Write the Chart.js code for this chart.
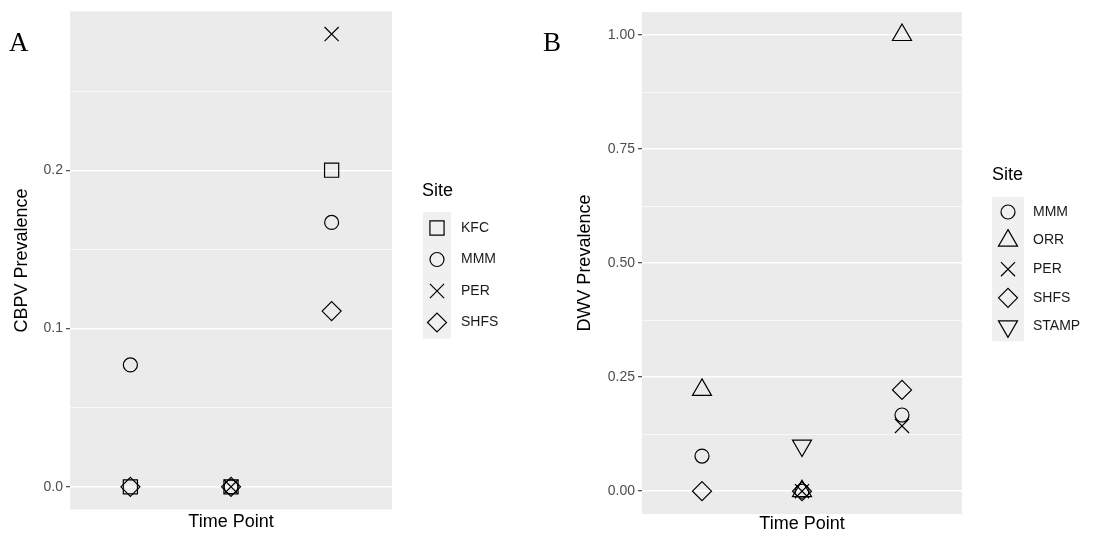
<!DOCTYPE html>
<html>
<head>
<meta charset="utf-8">
<script src="https://cdn.jsdelivr.net/npm/chart.js@4.4.0/dist/chart.umd.min.js"></script>
<style>
  body { margin: 0; background: #fff; width: 1093px; height: 535px; overflow: hidden; position: relative; }
  .wrap { position: absolute; top: 0; height: 535px; }
  .tag { position: absolute; font-family: "Liberation Serif", "Times New Roman", serif; font-size: 27px; line-height: 1; color: #000; }
</style>
</head>
<body>
<div class="wrap" style="left:0;width:540px"><canvas id="chartA"></canvas></div>
<div class="wrap" style="left:540px;width:553px"><canvas id="chartB"></canvas></div>
<div class="tag" style="left:9px;top:29px">A</div>
<div class="tag" style="left:543px;top:29px">B</div>
<script>
// time points on the x axis (no labels shown in the figure)
const timePoints = [1, 2, 3];

// Panel A - CBPV prevalence per site
const cbpvSites = ["KFC", "MMM", "PER", "SHFS"];
const cbpvKFC = [0, 0, 0.2];
const cbpvMMM = [0.077, 0, 0.167];
const cbpvPER = [null, 0, 0.286];
const cbpvSHFS = [0, 0, 0.111];
const cbpvTickValues = [0, 0.1, 0.2];
const cbpvTickLabels = ["0.0", "0.1", "0.2"];
const cbpvMinorTicks = [0.05, 0.15, 0.25];

// Panel B - DWV prevalence per site
const dwvSites = ["MMM", "ORR", "PER", "SHFS", "STAMP"];
const dwvMMM = [0.077, 0, 0.167];
const dwvORR = [0.222, 0, 1.0];
const dwvPER = [null, 0, 0.143];
const dwvSHFS = [0, 0, 0.222];
const dwvSTAMP = [null, 0.1, null];
const dwvTickValues = [0, 0.25, 0.5, 0.75, 1.0];
const dwvTickLabels = ["0.00", "0.25", "0.50", "0.75", "1.00"];
const dwvMinorTicks = [0.125, 0.375, 0.625, 0.875];

// open symbols like ggplot shapes 0,1,2,4,5,6
const shapes = {
  KFC: { pointStyle: "rect", pointRadius: 10, pointRotation: 0 },
  MMM: { pointStyle: "circle", pointRadius: 7, pointRotation: 0 },
  PER: { pointStyle: "crossRot", pointRadius: 10, pointRotation: 0 },
  SHFS: { pointStyle: "rectRot", pointRadius: 9.5, pointRotation: 0 },
  ORR: { pointStyle: "triangle", pointRadius: 11, pointRotation: 0 },
  STAMP: { pointStyle: "triangle", pointRadius: 11, pointRotation: 180 },
};

const FONT = "'Liberation Sans', Arial, sans-serif";

function makeDatasets(sites, series) {
  return sites.map((site, i) => ({
    label: site,
    data: timePoints
      .map((t, j) => ({ x: t, y: series[i][j] }))
      .filter((p) => p.y !== null),
    ...shapes[site],
    pointBorderWidth: 1.2,
    pointBorderColor: "#000",
    pointBackgroundColor: "rgba(0,0,0,0)",
  }));
}

// grey panel behind the grid
const ggPanel = {
  id: "ggPanel",
  beforeDraw(chart) {
    const { ctx, chartArea: a } = chart;
    ctx.save();
    ctx.fillStyle = "#ebebeb";
    ctx.fillRect(a.left, a.top, a.right - a.left, a.bottom - a.top);
    ctx.restore();
  },
};

// ggplot-style legend: title, grey key column, symbols from the datasets
const ggLegend = {
  id: "ggLegend",
  afterDraw(chart, args, o) {
    const ctx = chart.ctx;
    const sets = chart.data.datasets;
    const lastY = o.firstY + o.stepY * (sets.length - 1);
    ctx.save();
    ctx.fillStyle = "#f0f0f0";
    ctx.fillRect(o.keyX - o.keyHalfW, o.firstY - o.keyHalfH,
      o.keyHalfW * 2, lastY - o.firstY + o.keyHalfH * 2);
    ctx.fillStyle = "#000";
    ctx.textBaseline = "middle";
    ctx.textAlign = "left";
    ctx.font = o.titleSize + "px " + FONT;
    ctx.fillText("Site", o.titleX, o.titleY);
    ctx.font = o.labelSize + "px " + FONT;
    sets.forEach((ds, i) => {
      const y = o.firstY + o.stepY * i;
      ctx.strokeStyle = "#000";
      ctx.fillStyle = "rgba(0,0,0,0)";
      ctx.lineWidth = 1.2;
      Chart.helpers.drawPoint(ctx, {
        pointStyle: ds.pointStyle,
        rotation: ds.pointRotation,
        radius: ds.pointRadius,
        borderWidth: 1.2,
      }, o.keyX, y);
      ctx.fillStyle = "#1a1a1a";
      ctx.fillText(ds.label, o.textX, y);
    });
    ctx.restore();
  },
};

function makeChart(id, cfg) {
  const range = cfg.max - cfg.min;
  const isMajor = (v) => cfg.tickValues.some((t) => Math.abs(t - v) < 1e-9);
  return new Chart(document.getElementById(id), {
    type: "scatter",
    data: { datasets: cfg.datasets },
    plugins: [ggPanel, ggLegend],
    options: {
      responsive: true,
      maintainAspectRatio: false,
      animation: false,
      events: [],
      layout: { padding: { left: 0, top: cfg.padTop, right: cfg.padRight, bottom: 0 } },
      scales: {
        x: {
          type: "linear",
          min: 0.4,
          max: 3.6,
          ticks: { display: false },
          grid: { display: false },
          border: { display: false },
          title: {
            display: true,
            text: "Time Point",
            color: "#000",
            font: { family: FONT, size: cfg.titleSize },
            padding: { top: 0, bottom: cfg.xTitlePad },
          },
          afterFit: (s) => { s.height = cfg.xAxisHeight; },
        },
        y: {
          type: "linear",
          min: cfg.min - range * 0.05,
          max: cfg.max + range * 0.05,
          afterBuildTicks: (s) => {
            s.ticks = [...cfg.tickValues, ...cfg.minorTicks]
              .sort((a, b) => a - b)
              .map((v) => ({ value: v }));
          },
          ticks: {
            color: "#4d4d4d",
            font: { family: FONT, size: cfg.tickSize },
            padding: 3,
            callback: (v) => {
              const k = cfg.tickValues.findIndex((t) => Math.abs(t - v) < 1e-9);
              return k >= 0 ? cfg.tickLabels[k] : "";
            },
          },
          grid: {
            color: "#ffffff",
            lineWidth: (c) => (c.tick && isMajor(c.tick.value) ? 1.4 : 0.7),
            tickLength: 4,
            tickColor: (c) => (c.tick && isMajor(c.tick.value) ? "#333333" : "rgba(0,0,0,0)"),
            tickWidth: 1.1,
          },
          border: { display: false },
          title: {
            display: true,
            text: cfg.yTitle,
            color: "#000",
            font: { family: FONT, size: cfg.titleSize },
            padding: { top: cfg.yTitlePad, bottom: 0 },
          },
          afterFit: (s) => { s.width = cfg.yAxisWidth; },
        },
      },
      plugins: {
        tooltip: { enabled: false },
        legend: { display: false },
        ggLegend: cfg.legend,
      },
    },
  });
}

makeChart("chartA", {
  datasets: makeDatasets(cbpvSites, [cbpvKFC, cbpvMMM, cbpvPER, cbpvSHFS]),
  min: 0,
  max: 0.286,
  tickValues: cbpvTickValues,
  tickLabels: cbpvTickLabels,
  minorTicks: cbpvMinorTicks,
  yTitle: "CBPV Prevalence",
  yTitlePad: 11,
  yAxisWidth: 70,
  xAxisHeight: 25.5,
  xTitlePad: 2,
  padTop: 10,
  padRight: 540 - 392,
  titleSize: 18,
  tickSize: 14,
  legend: {
    titleX: 422, titleY: 191, titleSize: 18, labelSize: 14,
    keyX: 437, textX: 461, firstY: 228, stepY: 31.5,
    keyHalfW: 14, keyHalfH: 16,
  },
});

makeChart("chartB", {
  datasets: makeDatasets(dwvSites, [dwvMMM, dwvORR, dwvPER, dwvSHFS, dwvSTAMP]),
  min: 0,
  max: 1.0,
  tickValues: dwvTickValues,
  tickLabels: dwvTickLabels,
  minorTicks: dwvMinorTicks,
  yTitle: "DWV Prevalence",
  yTitlePad: 34,
  yAxisWidth: 102,
  xAxisHeight: 21,
  xTitlePad: 0,
  padTop: 8.5,
  padRight: 553 - 422,
  titleSize: 18,
  tickSize: 14,
  legend: {
    titleX: 452, titleY: 175, titleSize: 18, labelSize: 14,
    keyX: 468, textX: 493, firstY: 212, stepY: 28.6,
    keyHalfW: 16, keyHalfH: 15,
  },
});
</script>
</body>
</html>
